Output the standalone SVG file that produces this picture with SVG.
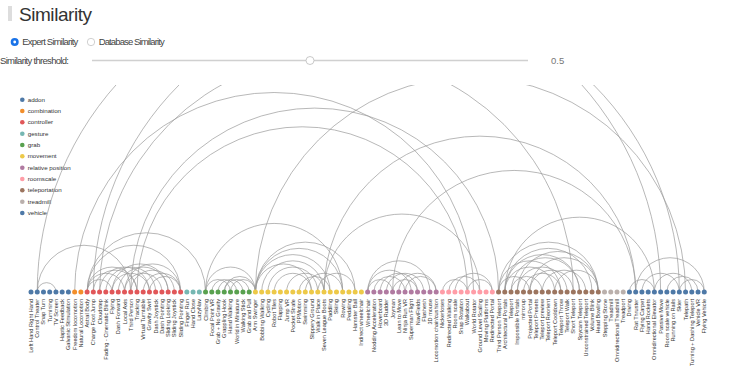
<svg xmlns="http://www.w3.org/2000/svg" width="735" height="378" viewBox="0 0 735 378">
<style>
text{font-family:"Liberation Sans",Arial,sans-serif}
.ui{font-size:9.5px;fill:#444}
.lg{font-size:6.2px;fill:#333}
.lb{font-size:5.6px;fill:#333;text-anchor:end}
.arc{fill:none;stroke:#9a9a9a;stroke-width:0.7}
.addon{fill:#4e79a7}.combination{fill:#f28e2b}.controller{fill:#e15759}.gesture{fill:#76b7b2}.grab{fill:#59a14f}.movement{fill:#edc948}.relative{fill:#b07aa1}.roomscale{fill:#ff9da7}.teleportation{fill:#9c755f}.treadmill{fill:#bab0ac}.vehicle{fill:#4e79a7}
</style>
<defs><clipPath id="chart"><rect x="0" y="85" width="735" height="210"/></clipPath></defs>
<rect width="735" height="378" fill="#fff"/>
<g id="header">
<rect x="8" y="6" width="4" height="15" fill="#ddd"/>
<text x="19" y="21" font-size="19" fill="#333" textLength="73">Similarity</text>
<circle cx="14.7" cy="42" r="4" fill="#1a73e8"/><circle cx="14.7" cy="42" r="1.4" fill="#fff"/>
<text class="ui" x="22.3" y="45" textLength="56">Expert Similarity</text>
<circle cx="91" cy="42" r="3.7" fill="#fff" stroke="#bbb" stroke-width="0.7"/>
<text class="ui" x="98.7" y="45" textLength="66">Database Similarity</text>
<text class="ui" x="0" y="63.5" textLength="69">Similarity threshold:</text>
<line x1="92" y1="60.5" x2="528" y2="60.5" stroke="#d0d0d0" stroke-width="1.6"/>
<circle cx="310" cy="60.5" r="4" fill="#fff" stroke="#bbb" stroke-width="0.8"/>
<text class="ui" x="551" y="63.5" style="fill:#777">0.5</text>
</g>
<g id="legend">
<circle class="addon" cx="22.3" cy="99.7" r="2.3"/><text class="lg" x="27.7" y="101.8">addon</text>
<circle class="combination" cx="22.3" cy="111" r="2.3"/><text class="lg" x="27.7" y="113.1">combination</text>
<circle class="controller" cx="22.3" cy="122.3" r="2.3"/><text class="lg" x="27.7" y="124.4">controller</text>
<circle class="gesture" cx="22.3" cy="133.7" r="2.3"/><text class="lg" x="27.7" y="135.8">gesture</text>
<circle class="grab" cx="22.3" cy="145" r="2.3"/><text class="lg" x="27.7" y="147.1">grab</text>
<circle class="movement" cx="22.3" cy="156.3" r="2.3"/><text class="lg" x="27.7" y="158.4">movement</text>
<circle class="relative" cx="22.3" cy="167.7" r="2.3"/><text class="lg" x="27.7" y="169.8">relative position</text>
<circle class="roomscale" cx="22.3" cy="179" r="2.3"/><text class="lg" x="27.7" y="181.1">roomscale</text>
<circle class="teleportation" cx="22.3" cy="190.3" r="2.3"/><text class="lg" x="27.7" y="192.4">teleportation</text>
<circle class="treadmill" cx="22.3" cy="201.7" r="2.3"/><text class="lg" x="27.7" y="203.8">treadmill</text>
<circle class="vehicle" cx="22.3" cy="213" r="2.3"/><text class="lg" x="27.7" y="215.1">vehicle</text>
</g>
<g id="connectors" class="arc" clip-path="url(#chart)">
<path d="M37.23,292A1,1 0 0 1 660.63,292"/>
<path d="M93.34,292A1,1 0 0 1 679.34,292"/>
<path d="M99.57,292A1,1 0 0 1 573.36,292"/>
<path d="M255.42,292A1,1 0 0 1 685.57,292"/>
<path d="M74.64,292A1,1 0 0 1 473.61,292"/>
<path d="M130.74,292A1,1 0 0 1 498.55,292"/>
<path d="M136.98,292A1,1 0 0 1 467.38,292"/>
<path d="M324.00,292A1,1 0 0 1 635.70,292"/>
<path d="M392.57,292A1,1 0 0 1 635.70,292"/>
<path d="M324.00,292A1,1 0 0 1 479.85,292"/>
<path d="M504.78,292A1,1 0 0 1 654.40,292"/>
<path d="M205.55,292A1,1 0 0 1 342.70,292"/>
<path d="M87.11,292A1,1 0 0 1 205.55,292"/>
<path d="M37.23,292A1,1 0 0 1 130.74,292"/>
<path d="M87.11,292A1,1 0 0 1 180.62,292"/>
<path d="M635.70,292A1,1 0 0 1 704.27,292"/>
<path d="M37.23,292A1,1 0 0 1 55.94,292"/>
<path d="M87.11,292A1,1 0 0 1 136.98,292"/>
<path d="M87.11,292A1,1 0 0 1 124.51,292"/>
<path d="M93.34,292A1,1 0 0 1 136.98,292"/>
<path d="M99.57,292A1,1 0 0 1 149.45,292"/>
<path d="M105.81,292A1,1 0 0 1 155.68,292"/>
<path d="M112.04,292A1,1 0 0 1 149.45,292"/>
<path d="M112.04,292A1,1 0 0 1 168.15,292"/>
<path d="M118.28,292A1,1 0 0 1 168.15,292"/>
<path d="M124.51,292A1,1 0 0 1 161.91,292"/>
<path d="M124.51,292A1,1 0 0 1 180.62,292"/>
<path d="M130.74,292A1,1 0 0 1 174.38,292"/>
<path d="M87.11,292A1,1 0 0 1 112.04,292"/>
<path d="M143.21,292A1,1 0 0 1 180.62,292"/>
<path d="M149.45,292A1,1 0 0 1 180.62,292"/>
<path d="M205.55,292A1,1 0 0 1 230.49,292"/>
<path d="M211.79,292A1,1 0 0 1 236.72,292"/>
<path d="M218.02,292A1,1 0 0 1 242.96,292"/>
<path d="M224.25,292A1,1 0 0 1 249.19,292"/>
<path d="M205.55,292A1,1 0 0 1 255.42,292"/>
<path d="M224.25,292A1,1 0 0 1 255.42,292"/>
<path d="M230.49,292A1,1 0 0 1 255.42,292"/>
<path d="M255.42,292A1,1 0 0 1 355.17,292"/>
<path d="M255.42,292A1,1 0 0 1 342.70,292"/>
<path d="M255.42,292A1,1 0 0 1 330.23,292"/>
<path d="M255.42,292A1,1 0 0 1 311.53,292"/>
<path d="M261.66,292A1,1 0 0 1 324.00,292"/>
<path d="M267.89,292A1,1 0 0 1 317.76,292"/>
<path d="M274.13,292A1,1 0 0 1 311.53,292"/>
<path d="M286.59,292A1,1 0 0 1 324.00,292"/>
<path d="M299.06,292A1,1 0 0 1 330.23,292"/>
<path d="M305.30,292A1,1 0 0 1 342.70,292"/>
<path d="M317.76,292A1,1 0 0 1 355.17,292"/>
<path d="M367.64,292A1,1 0 0 1 429.98,292"/>
<path d="M367.64,292A1,1 0 0 1 411.27,292"/>
<path d="M373.87,292A1,1 0 0 1 405.04,292"/>
<path d="M380.10,292A1,1 0 0 1 417.51,292"/>
<path d="M386.34,292A1,1 0 0 1 423.74,292"/>
<path d="M392.57,292A1,1 0 0 1 417.51,292"/>
<path d="M398.81,292A1,1 0 0 1 436.21,292"/>
<path d="M405.04,292A1,1 0 0 1 436.21,292"/>
<path d="M367.64,292A1,1 0 0 1 392.57,292"/>
<path d="M442.44,292A1,1 0 0 1 467.38,292"/>
<path d="M448.68,292A1,1 0 0 1 479.85,292"/>
<path d="M454.91,292A1,1 0 0 1 492.32,292"/>
<path d="M467.38,292A1,1 0 0 1 492.32,292"/>
<path d="M498.55,292A1,1 0 0 1 598.29,292"/>
<path d="M498.55,292A1,1 0 0 1 560.89,292"/>
<path d="M504.78,292A1,1 0 0 1 592.06,292"/>
<path d="M504.78,292A1,1 0 0 1 579.59,292"/>
<path d="M511.02,292A1,1 0 0 1 579.59,292"/>
<path d="M517.25,292A1,1 0 0 1 567.12,292"/>
<path d="M517.25,292A1,1 0 0 1 598.29,292"/>
<path d="M504.78,292A1,1 0 0 1 554.66,292"/>
<path d="M511.02,292A1,1 0 0 1 542.19,292"/>
<path d="M523.49,292A1,1 0 0 1 560.89,292"/>
<path d="M529.72,292A1,1 0 0 1 573.36,292"/>
<path d="M529.72,292A1,1 0 0 1 598.29,292"/>
<path d="M542.19,292A1,1 0 0 1 585.83,292"/>
<path d="M554.66,292A1,1 0 0 1 598.29,292"/>
<path d="M498.55,292A1,1 0 0 1 529.72,292"/>
<path d="M629.46,292A1,1 0 0 1 654.40,292"/>
<path d="M641.93,292A1,1 0 0 1 679.34,292"/>
<path d="M654.40,292A1,1 0 0 1 691.80,292"/>
<path d="M666.87,292A1,1 0 0 1 698.04,292"/>
<path d="M679.34,292A1,1 0 0 1 704.27,292"/>
</g>
<g id="nodes">
<g id="n0"><circle class="addon" cx="31.00" cy="292" r="2.5"/><text class="lb" transform="translate(33,299) rotate(-90)">Left Hand Right Hand</text></g>
<g id="n1"><circle class="addon" cx="37.23" cy="292" r="2.5"/><text class="lb" transform="translate(39.23,299) rotate(-90)">Control Theater</text></g>
<g id="n2"><circle class="addon" cx="43.47" cy="292" r="2.5"/><text class="lb" transform="translate(45.47,299) rotate(-90)">Snap Turn</text></g>
<g id="n3"><circle class="addon" cx="49.70" cy="292" r="2.5"/><text class="lb" transform="translate(51.70,299) rotate(-90)">Turnining</text></g>
<g id="n4"><circle class="addon" cx="55.94" cy="292" r="2.5"/><text class="lb" transform="translate(57.94,299) rotate(-90)">TV Screen</text></g>
<g id="n5"><circle class="addon" cx="62.17" cy="292" r="2.5"/><text class="lb" transform="translate(64.17,299) rotate(-90)">Haptic Feedback</text></g>
<g id="n6"><circle class="addon" cx="68.40" cy="292" r="2.5"/><text class="lb" transform="translate(70.40,299) rotate(-90)">Galvanic Stimulation</text></g>
<g id="n7"><circle class="combination" cx="74.64" cy="292" r="2.5"/><text class="lb" transform="translate(76.64,299) rotate(-90)">Freedom locomotion</text></g>
<g id="n8"><circle class="combination" cx="80.87" cy="292" r="2.5"/><text class="lb" transform="translate(82.87,299) rotate(-90)">Natural Locomotion</text></g>
<g id="n9"><circle class="controller" cx="87.11" cy="292" r="2.5"/><text class="lb" transform="translate(89.11,299) rotate(-90)">Astral Body</text></g>
<g id="n10"><circle class="controller" cx="93.34" cy="292" r="2.5"/><text class="lb" transform="translate(95.34,299) rotate(-90)">Charge Foot Jump</text></g>
<g id="n11"><circle class="controller" cx="99.57" cy="292" r="2.5"/><text class="lb" transform="translate(101.57,299) rotate(-90)">Cloudstep</text></g>
<g id="n12"><circle class="controller" cx="105.81" cy="292" r="2.5"/><text class="lb" transform="translate(107.81,299) rotate(-90)">Fading - Cinematic Blink</text></g>
<g id="n13"><circle class="controller" cx="112.04" cy="292" r="2.5"/><text class="lb" transform="translate(114.04,299) rotate(-90)">Flying</text></g>
<g id="n14"><circle class="controller" cx="118.28" cy="292" r="2.5"/><text class="lb" transform="translate(120.28,299) rotate(-90)">Dash Forward</text></g>
<g id="n15"><circle class="controller" cx="124.51" cy="292" r="2.5"/><text class="lb" transform="translate(126.51,299) rotate(-90)">Local Axis</text></g>
<g id="n16"><circle class="controller" cx="130.74" cy="292" r="2.5"/><text class="lb" transform="translate(132.74,299) rotate(-90)">Third Person</text></g>
<g id="n17"><circle class="controller" cx="136.98" cy="292" r="2.5"/><text class="lb" transform="translate(138.98,299) rotate(-90)">Tracking</text></g>
<g id="n18"><circle class="controller" cx="143.21" cy="292" r="2.5"/><text class="lb" transform="translate(145.21,299) rotate(-90)">Virtual Turntable</text></g>
<g id="n19"><circle class="controller" cx="149.45" cy="292" r="2.5"/><text class="lb" transform="translate(151.45,299) rotate(-90)">Gravity Swirl</text></g>
<g id="n20"><circle class="controller" cx="155.68" cy="292" r="2.5"/><text class="lb" transform="translate(157.68,299) rotate(-90)">Dash Joystick</text></g>
<g id="n21"><circle class="controller" cx="161.91" cy="292" r="2.5"/><text class="lb" transform="translate(163.91,299) rotate(-90)">Dash Pointing</text></g>
<g id="n22"><circle class="controller" cx="168.15" cy="292" r="2.5"/><text class="lb" transform="translate(170.15,299) rotate(-90)">Sliding Looking</text></g>
<g id="n23"><circle class="controller" cx="174.38" cy="292" r="2.5"/><text class="lb" transform="translate(176.38,299) rotate(-90)">Sliding Joystick</text></g>
<g id="n24"><circle class="controller" cx="180.62" cy="292" r="2.5"/><text class="lb" transform="translate(182.62,299) rotate(-90)">Sliding Pointing</text></g>
<g id="n25"><circle class="gesture" cx="186.85" cy="292" r="2.5"/><text class="lb" transform="translate(188.85,299) rotate(-90)">Finger Run</text></g>
<g id="n26"><circle class="gesture" cx="193.08" cy="292" r="2.5"/><text class="lb" transform="translate(195.08,299) rotate(-90)">Hand Close</text></g>
<g id="n27"><circle class="gesture" cx="199.32" cy="292" r="2.5"/><text class="lb" transform="translate(201.32,299) rotate(-90)">LazyNav</text></g>
<g id="n28"><circle class="grab" cx="205.55" cy="292" r="2.5"/><text class="lb" transform="translate(207.55,299) rotate(-90)">Climbing</text></g>
<g id="n29"><circle class="grab" cx="211.79" cy="292" r="2.5"/><text class="lb" transform="translate(213.79,299) rotate(-90)">Focal Point VR</text></g>
<g id="n30"><circle class="grab" cx="218.02" cy="292" r="2.5"/><text class="lb" transform="translate(220.02,299) rotate(-90)">Grab + No Gravity</text></g>
<g id="n31"><circle class="grab" cx="224.25" cy="292" r="2.5"/><text class="lb" transform="translate(226.25,299) rotate(-90)">Grappling Hook</text></g>
<g id="n32"><circle class="grab" cx="230.49" cy="292" r="2.5"/><text class="lb" transform="translate(232.49,299) rotate(-90)">Hand Walking</text></g>
<g id="n33"><circle class="grab" cx="236.72" cy="292" r="2.5"/><text class="lb" transform="translate(238.72,299) rotate(-90)">World in Miniature</text></g>
<g id="n34"><circle class="grab" cx="242.96" cy="292" r="2.5"/><text class="lb" transform="translate(244.96,299) rotate(-90)">Walking Stick</text></g>
<g id="n35"><circle class="grab" cx="249.19" cy="292" r="2.5"/><text class="lb" transform="translate(251.19,299) rotate(-90)">Grab and Pull</text></g>
<g id="n36"><circle class="movement" cx="255.42" cy="292" r="2.5"/><text class="lb" transform="translate(257.42,299) rotate(-90)">Arm Swinger</text></g>
<g id="n37"><circle class="movement" cx="261.66" cy="292" r="2.5"/><text class="lb" transform="translate(263.66,299) rotate(-90)">Bobbing Walking</text></g>
<g id="n38"><circle class="movement" cx="267.89" cy="292" r="2.5"/><text class="lb" transform="translate(269.89,299) rotate(-90)">Cycling</text></g>
<g id="n39"><circle class="movement" cx="274.13" cy="292" r="2.5"/><text class="lb" transform="translate(276.13,299) rotate(-90)">Robot Tiles</text></g>
<g id="n40"><circle class="movement" cx="280.36" cy="292" r="2.5"/><text class="lb" transform="translate(282.36,299) rotate(-90)">Flapping</text></g>
<g id="n41"><circle class="movement" cx="286.59" cy="292" r="2.5"/><text class="lb" transform="translate(288.59,299) rotate(-90)">Jump VR</text></g>
<g id="n42"><circle class="movement" cx="292.83" cy="292" r="2.5"/><text class="lb" transform="translate(294.83,299) rotate(-90)">Pocket Strafe</text></g>
<g id="n43"><circle class="movement" cx="299.06" cy="292" r="2.5"/><text class="lb" transform="translate(301.06,299) rotate(-90)">PPMotion</text></g>
<g id="n44"><circle class="movement" cx="305.30" cy="292" r="2.5"/><text class="lb" transform="translate(307.30,299) rotate(-90)">Swimming</text></g>
<g id="n45"><circle class="movement" cx="311.53" cy="292" r="2.5"/><text class="lb" transform="translate(313.53,299) rotate(-90)">Slippery Ground</text></g>
<g id="n46"><circle class="movement" cx="317.76" cy="292" r="2.5"/><text class="lb" transform="translate(319.76,299) rotate(-90)">Walk in Place</text></g>
<g id="n47"><circle class="movement" cx="324.00" cy="292" r="2.5"/><text class="lb" transform="translate(326.00,299) rotate(-90)">Seven League Boots</text></g>
<g id="n48"><circle class="movement" cx="330.23" cy="292" r="2.5"/><text class="lb" transform="translate(332.23,299) rotate(-90)">Paddling</text></g>
<g id="n49"><circle class="movement" cx="336.47" cy="292" r="2.5"/><text class="lb" transform="translate(338.47,299) rotate(-90)">Skiing</text></g>
<g id="n50"><circle class="movement" cx="342.70" cy="292" r="2.5"/><text class="lb" transform="translate(344.70,299) rotate(-90)">Rowing</text></g>
<g id="n51"><circle class="movement" cx="348.93" cy="292" r="2.5"/><text class="lb" transform="translate(350.93,299) rotate(-90)">Pedaling</text></g>
<g id="n52"><circle class="movement" cx="355.17" cy="292" r="2.5"/><text class="lb" transform="translate(357.17,299) rotate(-90)">Hamster Ball</text></g>
<g id="n53"><circle class="movement" cx="361.40" cy="292" r="2.5"/><text class="lb" transform="translate(363.40,299) rotate(-90)">Indirect wheelchair</text></g>
<g id="n54"><circle class="relative" cx="367.64" cy="292" r="2.5"/><text class="lb" transform="translate(369.64,299) rotate(-90)">Wheelchair</text></g>
<g id="n55"><circle class="relative" cx="373.87" cy="292" r="2.5"/><text class="lb" transform="translate(375.87,299) rotate(-90)">Nodding Acceleration</text></g>
<g id="n56"><circle class="relative" cx="380.10" cy="292" r="2.5"/><text class="lb" transform="translate(382.10,299) rotate(-90)">Hoverboard</text></g>
<g id="n57"><circle class="relative" cx="386.34" cy="292" r="2.5"/><text class="lb" transform="translate(388.34,299) rotate(-90)">3D Rudder</text></g>
<g id="n58"><circle class="relative" cx="392.57" cy="292" r="2.5"/><text class="lb" transform="translate(394.57,299) rotate(-90)">Joyman</text></g>
<g id="n59"><circle class="relative" cx="398.81" cy="292" r="2.5"/><text class="lb" transform="translate(400.81,299) rotate(-90)">Lean to Move</text></g>
<g id="n60"><circle class="relative" cx="405.04" cy="292" r="2.5"/><text class="lb" transform="translate(407.04,299) rotate(-90)">Ninja Run VR</text></g>
<g id="n61"><circle class="relative" cx="411.27" cy="292" r="2.5"/><text class="lb" transform="translate(413.27,299) rotate(-90)">Superman Flight</text></g>
<g id="n62"><circle class="relative" cx="417.51" cy="292" r="2.5"/><text class="lb" transform="translate(419.51,299) rotate(-90)">NaviFields</text></g>
<g id="n63"><circle class="relative" cx="423.74" cy="292" r="2.5"/><text class="lb" transform="translate(425.74,299) rotate(-90)">Flashesh</text></g>
<g id="n64"><circle class="relative" cx="429.98" cy="292" r="2.5"/><text class="lb" transform="translate(431.98,299) rotate(-90)">3D mouse</text></g>
<g id="n65"><circle class="relative" cx="436.21" cy="292" r="2.5"/><text class="lb" transform="translate(438.21,299) rotate(-90)">Locomotion chair/cushion</text></g>
<g id="n66"><circle class="roomscale" cx="442.44" cy="292" r="2.5"/><text class="lb" transform="translate(444.44,299) rotate(-90)">Nickerloses</text></g>
<g id="n67"><circle class="roomscale" cx="448.68" cy="292" r="2.5"/><text class="lb" transform="translate(450.68,299) rotate(-90)">Redirected Walking</text></g>
<g id="n68"><circle class="roomscale" cx="454.91" cy="292" r="2.5"/><text class="lb" transform="translate(456.91,299) rotate(-90)">Room scale</text></g>
<g id="n69"><circle class="roomscale" cx="461.15" cy="292" r="2.5"/><text class="lb" transform="translate(463.15,299) rotate(-90)">Snap Rotation</text></g>
<g id="n70"><circle class="roomscale" cx="467.38" cy="292" r="2.5"/><text class="lb" transform="translate(469.38,299) rotate(-90)">Walkabout</text></g>
<g id="n71"><circle class="roomscale" cx="473.61" cy="292" r="2.5"/><text class="lb" transform="translate(475.61,299) rotate(-90)">World Rotator</text></g>
<g id="n72"><circle class="roomscale" cx="479.85" cy="292" r="2.5"/><text class="lb" transform="translate(481.85,299) rotate(-90)">Ground Level Scaling</text></g>
<g id="n73"><circle class="roomscale" cx="486.08" cy="292" r="2.5"/><text class="lb" transform="translate(488.08,299) rotate(-90)">Moving Platforms</text></g>
<g id="n74"><circle class="roomscale" cx="492.32" cy="292" r="2.5"/><text class="lb" transform="translate(494.32,299) rotate(-90)">Redirected Portal</text></g>
<g id="n75"><circle class="teleportation" cx="498.55" cy="292" r="2.5"/><text class="lb" transform="translate(500.55,299) rotate(-90)">Third Person Teleport</text></g>
<g id="n76"><circle class="teleportation" cx="504.78" cy="292" r="2.5"/><text class="lb" transform="translate(506.78,299) rotate(-90)">Architectural Portals</text></g>
<g id="n77"><circle class="teleportation" cx="511.02" cy="292" r="2.5"/><text class="lb" transform="translate(513.02,299) rotate(-90)">Teleport</text></g>
<g id="n78"><circle class="teleportation" cx="517.25" cy="292" r="2.5"/><text class="lb" transform="translate(519.25,299) rotate(-90)">Impossible Portals</text></g>
<g id="n79"><circle class="teleportation" cx="523.49" cy="292" r="2.5"/><text class="lb" transform="translate(525.49,299) rotate(-90)">mirrorup</text></g>
<g id="n80"><circle class="teleportation" cx="529.72" cy="292" r="2.5"/><text class="lb" transform="translate(531.72,299) rotate(-90)">Projected Portal</text></g>
<g id="n81"><circle class="teleportation" cx="535.95" cy="292" r="2.5"/><text class="lb" transform="translate(537.95,299) rotate(-90)">Teleport Presets</text></g>
<g id="n82"><circle class="teleportation" cx="542.19" cy="292" r="2.5"/><text class="lb" transform="translate(544.19,299) rotate(-90)">Teleport preview</text></g>
<g id="n83"><circle class="teleportation" cx="548.42" cy="292" r="2.5"/><text class="lb" transform="translate(550.42,299) rotate(-90)">Teleport Reorient</text></g>
<g id="n84"><circle class="teleportation" cx="554.66" cy="292" r="2.5"/><text class="lb" transform="translate(556.66,299) rotate(-90)">Teleport Cooldown</text></g>
<g id="n85"><circle class="teleportation" cx="560.89" cy="292" r="2.5"/><text class="lb" transform="translate(562.89,299) rotate(-90)">Teleport Throw</text></g>
<g id="n86"><circle class="teleportation" cx="567.12" cy="292" r="2.5"/><text class="lb" transform="translate(569.12,299) rotate(-90)">Teleport Walk</text></g>
<g id="n87"><circle class="teleportation" cx="573.36" cy="292" r="2.5"/><text class="lb" transform="translate(575.36,299) rotate(-90)">Short Teleport</text></g>
<g id="n88"><circle class="teleportation" cx="579.59" cy="292" r="2.5"/><text class="lb" transform="translate(581.59,299) rotate(-90)">Spycam Teleport</text></g>
<g id="n89"><circle class="teleportation" cx="585.83" cy="292" r="2.5"/><text class="lb" transform="translate(587.83,299) rotate(-90)">Unconstrained Teleport</text></g>
<g id="n90"><circle class="teleportation" cx="592.06" cy="292" r="2.5"/><text class="lb" transform="translate(594.06,299) rotate(-90)">Volume Blink</text></g>
<g id="n91"><circle class="teleportation" cx="598.29" cy="292" r="2.5"/><text class="lb" transform="translate(600.29,299) rotate(-90)">Head Bowling</text></g>
<g id="n92"><circle class="treadmill" cx="604.53" cy="292" r="2.5"/><text class="lb" transform="translate(606.53,299) rotate(-90)">Stepping Stone</text></g>
<g id="n93"><circle class="treadmill" cx="610.76" cy="292" r="2.5"/><text class="lb" transform="translate(612.76,299) rotate(-90)">Treadmill</text></g>
<g id="n94"><circle class="treadmill" cx="617.00" cy="292" r="2.5"/><text class="lb" transform="translate(619.00,299) rotate(-90)">Omnidirectional Treadmill</text></g>
<g id="n95"><circle class="treadmill" cx="623.23" cy="292" r="2.5"/><text class="lb" transform="translate(625.23,299) rotate(-90)">Treadport</text></g>
<g id="n96"><circle class="vehicle" cx="629.46" cy="292" r="2.5"/><text class="lb" transform="translate(631.46,299) rotate(-90)">Driving</text></g>
<g id="n97"><circle class="vehicle" cx="635.70" cy="292" r="2.5"/><text class="lb" transform="translate(637.70,299) rotate(-90)">Rat Thruster</text></g>
<g id="n98"><circle class="vehicle" cx="641.93" cy="292" r="2.5"/><text class="lb" transform="translate(643.93,299) rotate(-90)">Flying Carpet</text></g>
<g id="n99"><circle class="vehicle" cx="648.17" cy="292" r="2.5"/><text class="lb" transform="translate(650.17,299) rotate(-90)">Hand Rockets</text></g>
<g id="n100"><circle class="vehicle" cx="654.40" cy="292" r="2.5"/><text class="lb" transform="translate(656.40,299) rotate(-90)">Omnidirectional Elevator</text></g>
<g id="n101"><circle class="vehicle" cx="660.63" cy="292" r="2.5"/><text class="lb" transform="translate(662.63,299) rotate(-90)">Passive Move</text></g>
<g id="n102"><circle class="vehicle" cx="666.87" cy="292" r="2.5"/><text class="lb" transform="translate(668.87,299) rotate(-90)">Room scale vehicle</text></g>
<g id="n103"><circle class="vehicle" cx="673.10" cy="292" r="2.5"/><text class="lb" transform="translate(675.10,299) rotate(-90)">Running on Rails</text></g>
<g id="n104"><circle class="vehicle" cx="679.34" cy="292" r="2.5"/><text class="lb" transform="translate(681.34,299) rotate(-90)">Skier</text></g>
<g id="n105"><circle class="vehicle" cx="685.57" cy="292" r="2.5"/><text class="lb" transform="translate(687.57,299) rotate(-90)">Telepath</text></g>
<g id="n106"><circle class="vehicle" cx="691.80" cy="292" r="2.5"/><text class="lb" transform="translate(693.80,299) rotate(-90)">Turning + Dashing Teleport</text></g>
<g id="n107"><circle class="vehicle" cx="698.04" cy="292" r="2.5"/><text class="lb" transform="translate(700.04,299) rotate(-90)">Vehicle VR</text></g>
<g id="n108"><circle class="vehicle" cx="704.27" cy="292" r="2.5"/><text class="lb" transform="translate(706.27,299) rotate(-90)">Flying Vehicle</text></g>
</g>
</svg>
